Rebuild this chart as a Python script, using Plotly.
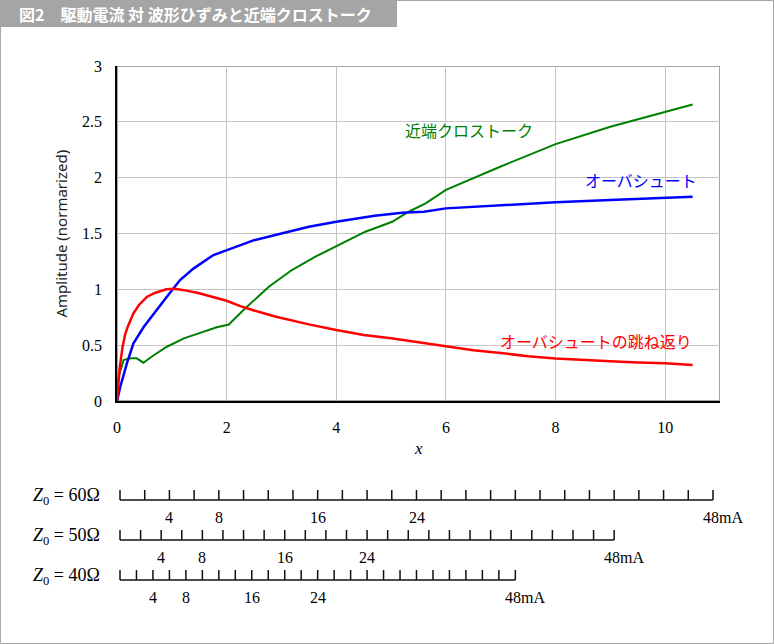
import plotly.graph_objects as go

# ---- main chart data ----
red_x = [0, 0.05, 0.1, 0.15, 0.2, 0.3, 0.4, 0.55, 0.7, 0.9, 1.05, 1.2, 1.5, 1.75, 2.0, 2.25, 2.5,
         2.9, 3.5, 4.0, 4.5, 5.0, 5.6, 6.0, 6.5, 7.0, 7.5, 8.0, 8.5, 9.0, 9.5, 10.0, 10.5]
red_y = [0, 0.3, 0.48, 0.6, 0.67, 0.785, 0.86, 0.934, 0.97, 1.0, 1.005, 0.995, 0.965, 0.93, 0.898,
         0.85, 0.81, 0.755, 0.686, 0.636, 0.592, 0.561, 0.516, 0.486, 0.455, 0.43, 0.40, 0.38,
         0.365, 0.355, 0.345, 0.337, 0.322]

blue_x = [0, 0.06, 0.18, 0.3, 0.49, 0.67, 0.91, 1.15, 1.4, 1.76, 2.0, 2.5, 3.0, 3.5, 4.0, 4.7,
          5.2, 5.6, 6.0, 7.0, 8.0, 9.0, 10.0, 10.5]
blue_y = [0, 0.128, 0.337, 0.516, 0.665, 0.785, 0.934, 1.083, 1.188, 1.307, 1.352, 1.44, 1.50,
          1.56, 1.605, 1.659, 1.686, 1.695, 1.725, 1.755, 1.78, 1.80, 1.82, 1.83]

green_x = [0, 0.03, 0.12, 0.24, 0.36, 0.48, 0.67, 0.91, 1.22, 1.52, 1.82, 2.04, 2.34, 2.77, 3.19,
           3.62, 4.0, 4.53, 5.02, 5.32, 5.63, 6.0, 7.0, 8.0, 9.0, 10.0, 10.5]
green_y = [0, 0.218, 0.367, 0.382, 0.382, 0.343, 0.41, 0.486, 0.561, 0.611, 0.66, 0.685, 0.83,
           1.023, 1.173, 1.292, 1.388, 1.516, 1.605, 1.695, 1.77, 1.89, 2.10, 2.30, 2.456, 2.59, 2.656]

series_names = ["近端クロストーク", "オーバシュート", "オーバシュートの跳ね返り"]
series_colors = ["#008000", "#0000ff", "#ff0000"]

# ---- current scales ----
z0_values = [60, 50, 40]          # ohm
current_ticks = list(range(0, 50, 2))   # mA
current_labels = [4, 8, 16, 24]
current_max = 48

title_text = "図2　駆動電流 対 波形ひずみと近端クロストーク"

SERIF = "Liberation Serif, Times New Roman, serif"
JP = "Noto Sans CJK JP, sans-serif"

fig = go.Figure()

for xs, ys, c, w in [(green_x, green_y, series_colors[0], 2),
                     (blue_x, blue_y, series_colors[1], 2.5),
                     (red_x, red_y, series_colors[2], 2.5)]:
    fig.add_trace(go.Scatter(x=xs, y=ys, mode="lines", line=dict(color=c, width=w),
                             showlegend=False, hoverinfo="skip", xaxis="x", yaxis="y"))

# scales drawn on secondary axes (x in volts = mA * ohm / 1000, y = row index)
for row, z in enumerate(z0_values):
    vmax = current_max * z / 1000
    sx = [0, vmax, None]
    sy = [row, row, None]
    for i in current_ticks:
        v = i * z / 1000
        sx += [v, v, None]
        sy += [row, row - 0.25, None]
    fig.add_trace(go.Scatter(x=sx, y=sy, mode="lines", line=dict(color="#111111", width=1.5),
                             showlegend=False, hoverinfo="skip", xaxis="x2", yaxis="y2"))

annotations = []
# series labels
annotations.append(dict(x=5.21, y=2.426, xref="x", yref="y", text=series_names[0], showarrow=False,
                        xanchor="left", yanchor="middle", font=dict(family=JP, size=16, color=series_colors[0])))
annotations.append(dict(x=10.61, y=1.978, xref="x", yref="y", text=series_names[1], showarrow=False,
                        xanchor="right", yanchor="middle", font=dict(family=JP, size=16, color=series_colors[1])))
annotations.append(dict(x=10.52, y=0.54, xref="x", yref="y", text=series_names[2], showarrow=False,
                        xanchor="right", yanchor="middle", font=dict(family=JP, size=16, color=series_colors[2])))

# scale labels
for row, z in enumerate(z0_values):
    for lab in current_labels:
        annotations.append(dict(x=lab * z / 1000, y=row, xref="x2", yref="y2", text=str(lab),
                                showarrow=False, xanchor="center", yanchor="middle", yshift=-17,
                                font=dict(family=SERIF, size=16, color="#000000")))
    annotations.append(dict(x=current_max * z / 1000, y=row, xref="x2", yref="y2",
                            text=f"{current_max}mA", showarrow=False, xanchor="left",
                            yanchor="middle", yshift=-17, xshift=-12,
                            font=dict(family=SERIF, size=16, color="#000000")))
    annotations.append(dict(x=0, y=row, xref="x2", yref="y2",
                            text=f"<i>Z</i><sub>0</sub> = {z}Ω", showarrow=False, xanchor="right",
                            yanchor="middle", yshift=4, xshift=-18,
                            font=dict(family=SERIF, size=18, color="#000000")))

# axis titles
annotations.append(dict(x=-0.0929, y=0.6374, xref="paper", yref="paper", text="Amplitude (normarized)",
                        textangle=-90, showarrow=False, xanchor="center", yanchor="middle",
                        font=dict(family="Noto Sans, Arial, sans-serif", size=15, color="#222222")))
annotations.append(dict(x=0.5, y=0.3028, xref="paper", yref="paper", text="<i>x</i>",
                        showarrow=False, xanchor="center", yanchor="middle",
                        font=dict(family=SERIF, size=17, color="#000000")))
# title
annotations.append(dict(x=-0.1658, y=0.979, xref="paper", yref="paper", text="<b>" + title_text + "</b>",
                        showarrow=False, xanchor="left", yanchor="middle",
                        font=dict(family=JP, size=16, color="#ffffff")))

shapes = [
    # figure border
    dict(type="rect", xref="paper", yref="paper", x0=-116.5 / 603, x1=656.5 / 603, y0=0.5 / 644,
         y1=1 - 0.5 / 644, line=dict(color="#a8a8a8", width=1), layer="below"),
    # title bar
    dict(type="rect", xref="paper", yref="paper", x0=-117 / 603, x1=280 / 603, y0=1 - 27 / 644,
         y1=1, fillcolor="#a5a5a5", line=dict(width=0), layer="below"),
    # plot box (top/right gray)
    dict(type="rect", xref="x", yref="y", x0=0, x1=11, y0=0, y1=3,
         line=dict(color="#888888", width=1.5), layer="below"),
]

fig.update_layout(
    width=774, height=644,
    margin=dict(l=117, r=54, t=0, b=0, autoexpand=False),
    paper_bgcolor="white", plot_bgcolor="white",
    showlegend=False,
    annotations=annotations,
    shapes=shapes,
    xaxis=dict(domain=[0, 1], range=[0, 11], dtick=2, tick0=0, showgrid=True, gridcolor="#c4c4c4",
               gridwidth=1, zeroline=False, showline=True, linecolor="#000000", linewidth=1.5,
               ticks="", ticklabelstandoff=11, anchor="y", automargin=False,
               tickfont=dict(family=SERIF, size=16, color="#000000")),
    yaxis=dict(domain=[1 - 401 / 644, 1 - 66 / 644], range=[0, 3], dtick=0.5, tick0=0,
               showgrid=True, gridcolor="#c4c4c4", gridwidth=1, zeroline=False, showline=True,
               linecolor="#000000", linewidth=1.5, ticks="", ticklabelstandoff=10, anchor="x",
               automargin=False, tickfont=dict(family=SERIF, size=16, color="#000000")),
    xaxis2=dict(domain=[0, 1], range=[-3 / 205.9, 600 / 205.9], visible=False, anchor="y2",
                automargin=False),
    yaxis2=dict(domain=[1 - 620 / 644, 1 - 470 / 644], range=[3.0, -0.75], visible=False, anchor="x2",
                automargin=False),
)

fig.write_html(
    "out.html",
    config={"displayModeBar": False},
    post_script="document.body.style.margin='0';document.body.style.padding='0';"
                "var gd=document.getElementById('{plot_id}');"
                "gd.style.position='absolute';gd.style.top='0px';gd.style.left='0px';",
)
